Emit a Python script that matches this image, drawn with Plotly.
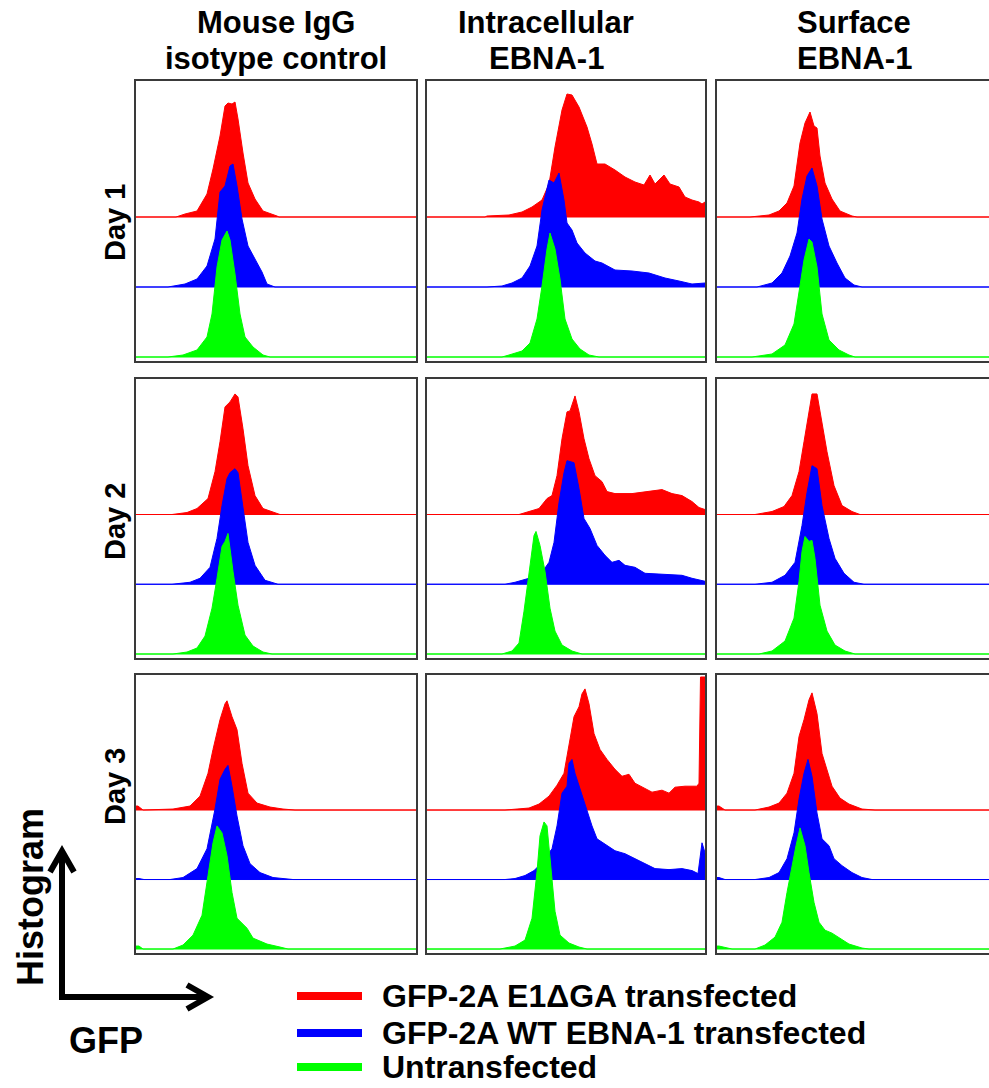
import plotly.graph_objects as go

W, H = 989, 1088

COLUMN_TITLES = [("Mouse IgG", "isotype control"), ("Intracellular", "EBNA-1"), ("Surface", "EBNA-1")]
ROW_LABELS = ["Day 1", "Day 2", "Day 3"]
SERIES = ["GFP-2A E1ΔGA transfected", "GFP-2A WT EBNA-1 transfected", "Untransfected"]
COLORS = ["#ff0000", "#0000ff", "#00ff00"]
X_AXIS_LABEL = "GFP"
Y_AXIS_LABEL = "Histogram"

# Histogram traces: (GFP position, event height)
D1_ISO_RED = [(40,0),(49,3),(61,6),(71,23),(77,48),(84,81),(89,111),(92,114),(96,113),(99,115),(102,98),(107,64),(112,34),(119,18),(127,6),(141,1),(143,0)]
D1_ISO_BLUE = [(32,0),(49,3),(61,8),(71,21),(79,48),(84,95),(89,101),(94,121),(97,123),(101,101),(106,68),(112,41),(119,28),(126,15),(131,3),(139,0)]
D1_ISO_GREEN = [(32,0),(47,2),(61,7),(71,20),(76,43),(81,90),(86,117),(91,126),(94,117),(99,83),(104,43),(109,20),(117,10),(127,2),(134,0)]

D1_INT_RED = [(58,0),(60,1),(82,2),(95,5),(105,10),(115,17),(122,33),(128,70),(135,107),(140,123),(145,122),(152,110),(160,90),(165,73),(170,53),(178,53),(188,47),(198,40),(208,35),(217,32),(223,42),(228,33),(237,42),(243,33),(252,30),(258,20),(265,17),(272,15),(275,13),(278,15)]
D1_INT_BLUE = [(60,0),(75,1),(85,4),(95,9),(103,21),(110,41),(115,77),(122,107),(127,104),(132,114),(137,87),(140,64),(145,57),(150,44),(158,34),(168,26),(175,24),(188,17),(205,16),(222,14),(238,9),(252,6),(265,3),(278,4)]
D1_INT_GREEN = [(75,0),(82,2),(95,6),(103,14),(110,38),(115,71),(120,108),(123,124),(128,108),(133,78),(138,38),(145,18),(153,8),(162,2),(172,0)]

D1_SUR_RED = [(33,0),(52,2),(62,6),(70,14),(77,31),(83,74),(88,94),(93,105),(97,91),(100,89),(103,61),(108,34),(115,18),(123,6),(135,1),(140,0)]
D1_SUR_BLUE = [(40,0),(55,4),(65,14),(73,31),(80,54),(85,88),(90,111),(95,119),(100,101),(105,68),(112,41),(120,24),(128,9),(137,2),(145,0)]
D1_SUR_GREEN = [(35,0),(55,3),(68,12),(77,33),(82,63),(87,97),(92,118),(95,115),(100,90),(105,43),(112,17),(122,7),(132,2),(138,0)]

D2_ISO_RED = [(36,0),(51,2),(61,6),(72,16),(79,43),(84,73),(89,108),(94,113),(99,121),(102,118),(107,86),(112,49),(119,19),(127,6),(141,1),(144,0)]
D2_ISO_BLUE = [(36,0),(54,2),(64,6),(74,17),(81,46),(86,79),(91,106),(94,112),(99,116),(102,112),(107,79),(112,42),(119,19),(129,4),(142,0)]
D2_ISO_GREEN = [(37,0),(51,2),(61,6),(69,18),(76,46),(81,76),(86,108),(89,113),(92,121),(97,83),(102,49),(109,19),(117,8),(127,2),(136,0)]

D2_INT_RED = [(92,0),(102,3),(112,6),(120,16),(125,19),(130,39),(135,76),(140,103),(143,104),(148,119),(152,103),(157,76),(162,56),(168,39),(175,33),(180,23),(188,21),(205,21),(222,23),(235,25),(245,21),(255,19),(265,13),(272,7),(278,5)]
D2_INT_BLUE = [(78,0),(88,2),(102,6),(115,12),(122,22),(127,42),(132,82),(137,112),(140,124),(147,122),(152,96),(157,66),(163,56),(170,39),(178,29),(185,22),(192,24),(198,19),(208,17),(218,11),(235,10),(255,9),(265,6),(278,3)]
D2_INT_GREEN = [(75,0),(85,3),(92,11),(97,43),(102,83),(107,119),(109,123),(113,109),(118,83),(123,46),(128,23),(135,9),(145,3),(155,0)]

D2_SUR_RED = [(38,0),(55,3),(67,8),(75,19),(82,43),(87,73),(92,106),(95,121),(100,121),(105,93),(110,63),(117,29),(125,9),(135,3),(143,0)]
D2_SUR_BLUE = [(38,0),(55,2),(68,9),(78,22),(85,59),(90,92),(95,119),(100,116),(105,79),(112,46),(118,26),(127,11),(137,2),(147,0)]
D2_SUR_GREEN = [(42,0),(55,3),(68,13),(77,36),(82,73),(85,103),(88,118),(92,113),(95,114),(98,96),(103,49),(110,23),(118,9),(128,3),(138,0)]

D3_ISO_RED = [(0,4),(2,4),(7,0),(37,1),(54,4),(64,14),(72,37),(77,61),(84,91),(89,107),(91,110),(96,94),(101,81),(106,47),(112,17),(121,7),(134,3),(147,1),(159,0)]
D3_ISO_BLUE = [(0,1),(3,1),(8,0),(34,0),(47,2),(61,11),(71,31),(79,71),(84,101),(89,111),(92,115),(96,94),(101,64),(107,34),(114,16),(124,7),(137,2),(157,0)]
D3_ISO_GREEN = [(0,3),(3,3),(7,0),(37,0),(47,4),(57,14),(66,34),(72,74),(77,107),(81,124),(86,117),(91,94),(96,57),(101,31),(106,26),(111,21),(117,11),(131,5),(144,2),(152,0)]

D3_INT_RED = [(78,0),(102,2),(112,6),(122,14),(130,25),(137,37),(142,64),(147,94),(152,104),(155,117),(158,122),(162,107),(167,77),(173,61),(180,51),(188,41),(195,34),(202,36),(208,27),(218,22),(225,18),(235,20),(242,17),(248,23),(258,24),(270,24),(272,27),(273.5,134),(278,134)]
D3_INT_BLUE = [(78,0),(88,1),(98,4),(107,9),(115,17),(125,31),(130,54),(135,87),(140,94),(142,117),(145,121),(148,107),(153,91),(158,74),(165,54),(170,41),(178,36),(188,29),(198,26),(208,21),(218,16),(228,11),(242,10),(255,11),(265,9),(271,6),(275,37),(278,27)]
D3_INT_GREEN = [(73,0),(88,3),(98,9),(105,31),(110,78),(113,114),(117,128),(120,124),(123,91),(128,38),(133,14),(142,6),(152,2),(160,0)]

D3_SUR_RED = [(0,4),(2,4),(8,0),(38,0),(52,3),(62,7),(70,17),(77,37),(82,74),(87,91),(92,111),(95,118),(100,97),(105,57),(110,41),(115,24),(123,12),(132,6),(145,1),(158,0)]
D3_SUR_BLUE = [(0,2),(2,2),(8,0),(38,0),(52,2),(62,7),(70,21),(77,47),(82,81),(87,107),(91,121),(95,104),(100,67),(105,41),(112,34),(117,21),(125,14),(135,7),(145,2),(155,0)]
D3_SUR_GREEN = [(0,3),(2,3),(15,0),(38,0),(48,4),(58,12),(65,27),(70,57),(75,84),(79,104),(83,122),(88,104),(92,77),(97,47),(102,27),(108,19),(115,16),(123,11),(132,5),(145,1),(152,0)]

PANELS = [
    [(D1_ISO_RED, D1_ISO_BLUE, D1_ISO_GREEN), (D1_INT_RED, D1_INT_BLUE, D1_INT_GREEN), (D1_SUR_RED, D1_SUR_BLUE, D1_SUR_GREEN)],
    [(D2_ISO_RED, D2_ISO_BLUE, D2_ISO_GREEN), (D2_INT_RED, D2_INT_BLUE, D2_INT_GREEN), (D2_SUR_RED, D2_SUR_BLUE, D2_SUR_GREEN)],
    [(D3_ISO_RED, D3_ISO_BLUE, D3_ISO_GREEN), (D3_INT_RED, D3_INT_BLUE, D3_INT_GREEN), (D3_SUR_RED, D3_SUR_BLUE, D3_SUR_GREEN)],
]

# ---- layout geometry (window pixels) ----
COL_X = [(136, 416), (427, 705), (717, 989)]
COL_RANGE = [(0, 280), (0, 278), (0, 272)]
ROW_Y = [(81, 361), (379, 658), (675, 953)]
OFFSETS = [140, 70, 0]   # red, blue, green baselines (stacked)
Y_RANGE = (-4, 276)
X_END = 280

def px(x):
    return x / W

def py(y):
    return 1 - y / H

fig = go.Figure()
layout_axes = {}
for r in range(3):
    for c in range(3):
        i = r * 3 + c
        xa = "x" if i == 0 else f"x{i+1}"
        ya = "y" if i == 0 else f"y{i+1}"
        for k in range(3):
            pts = PANELS[r][c][k]
            xs = [0] + [p[0] for p in pts] + [X_END, 0]
            ys = [0] + [p[1] for p in pts] + [0, 0]
            ys = [v + OFFSETS[k] for v in ys]
            fig.add_trace(go.Scatter(
                x=xs, y=ys, mode="lines", fill="toself",
                fillcolor=COLORS[k], line=dict(color=COLORS[k], width=1),
                xaxis=xa, yaxis=ya, showlegend=False, hoverinfo="skip"))
        xname = "xaxis" if i == 0 else f"xaxis{i+1}"
        yname = "yaxis" if i == 0 else f"yaxis{i+1}"
        common = dict(showgrid=False, zeroline=False, showticklabels=False, ticks="",
                      showline=True, linecolor="#3a3a3a", linewidth=2, fixedrange=True)
        layout_axes[xname] = dict(domain=[px(COL_X[c][0]), min(1.0, px(COL_X[c][1]))],
                                  range=list(COL_RANGE[c]), anchor=ya, mirror=True, **common)
        layout_axes[yname] = dict(domain=[py(ROW_Y[r][1]), py(ROW_Y[r][0])],
                                  range=list(Y_RANGE), anchor=xa,
                                  mirror=(c < 2), **common)

fig.update_layout(**layout_axes)

FONT = "Liberation Sans, Arial, sans-serif"
annotations = []
shapes = []

TITLE_CX = [276, 546, 854]
for c, (l1, l2) in enumerate(COLUMN_TITLES):
    for text, yy in ((l1, 22), (l2, 58)):
        annotations.append(dict(text=f"<b>{text}</b>", x=px(TITLE_CX[c]), y=py(yy),
                                xref="paper", yref="paper", showarrow=False,
                                xanchor="center", yanchor="middle",
                                font=dict(family=FONT, size=31, color="black")))

ROW_LABEL_Y = [223, 522, 787]
for r, lab in enumerate(ROW_LABELS):
    annotations.append(dict(text=f"<b>{lab}</b>", x=px(115), y=py(ROW_LABEL_Y[r]),
                            xref="paper", yref="paper", showarrow=False, textangle=-90,
                            xanchor="center", yanchor="middle",
                            font=dict(family=FONT, size=29, color="black")))

# axis-direction arrows and their labels
annotations.append(dict(text=f"<b>{Y_AXIS_LABEL}</b>", x=px(30), y=py(897),
                        xref="paper", yref="paper", showarrow=False, textangle=-90,
                        xanchor="center", yanchor="middle",
                        font=dict(family=FONT, size=36, color="black")))
annotations.append(dict(text=f"<b>{X_AXIS_LABEL}</b>", x=px(106), y=py(1040),
                        xref="paper", yref="paper", showarrow=False,
                        xanchor="center", yanchor="middle",
                        font=dict(family=FONT, size=36, color="black")))

def path(points):
    return "M " + " L ".join(f"{px(x)},{py(y)}" for x, y in points)

shapes.append(dict(type="path", xref="paper", yref="paper",
                   path=path([(62, 851), (62, 997), (208, 997)]),
                   line=dict(color="black", width=6)))
shapes.append(dict(type="path", xref="paper", yref="paper",
                   path=path([(50, 872), (62, 851), (74, 872)]),
                   line=dict(color="black", width=6)))
shapes.append(dict(type="path", xref="paper", yref="paper",
                   path=path([(187, 985), (208, 997), (187, 1009)]),
                   line=dict(color="black", width=6)))

LEG_Y = [996, 1033, 1067]
for k, name in enumerate(SERIES):
    shapes.append(dict(type="line", xref="paper", yref="paper",
                       x0=px(297), x1=px(362), y0=py(LEG_Y[k]), y1=py(LEG_Y[k]),
                       line=dict(color=COLORS[k], width=8)))
    annotations.append(dict(text=f"<b>{name}</b>", x=px(380), y=py(LEG_Y[k]),
                            xref="paper", yref="paper", showarrow=False,
                            xanchor="left", yanchor="middle",
                            font=dict(family=FONT, size=32, color="black")))

fig.update_layout(width=W, height=H, margin=dict(l=0, r=0, t=0, b=0),
                  paper_bgcolor="white", plot_bgcolor="white",
                  annotations=annotations, shapes=shapes, showlegend=False)

# remove the browser's default 8 px page margin so the figure fills the window exactly
fig.write_html("out.html", config={"displayModeBar": False},
               post_script="document.body.style.margin='0';document.body.style.overflow='hidden';")
